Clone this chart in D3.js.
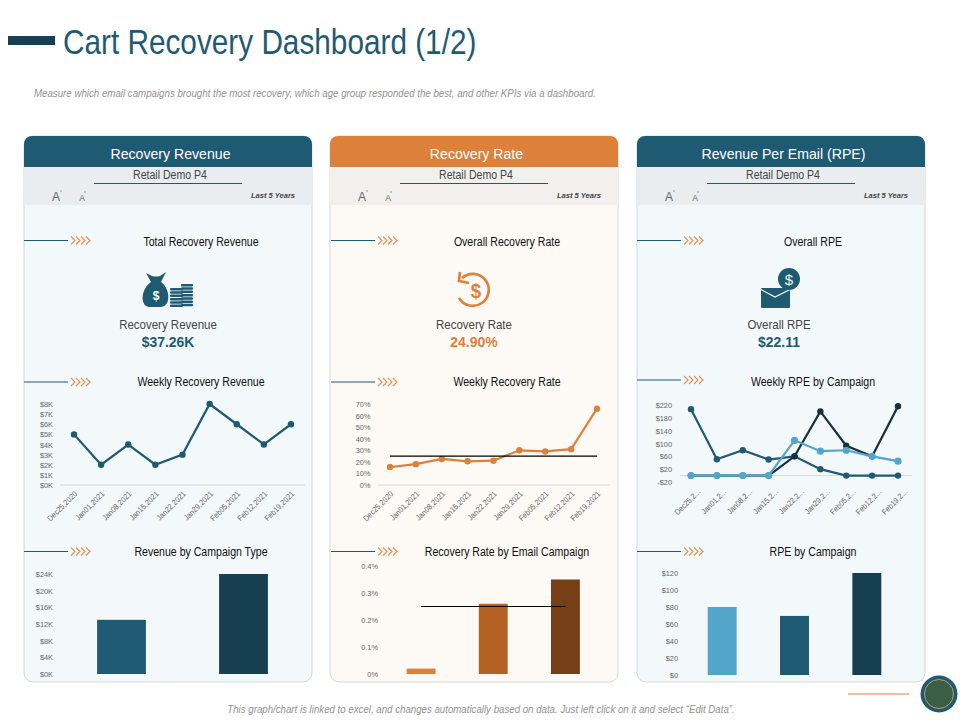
<!DOCTYPE html>
<html lang="en">
  <head>
    <meta charset="utf-8">
    <title>Cart Recovery Dashboard (1/2)</title>
    <script src="https://d3js.org/d3.v7.min.js"></script>
    <style>
      html, body { margin: 0; padding: 0; background: #fff; }
      svg { display: block; }
      text { font-family: "Liberation Sans", Arial, sans-serif; }
      .tick text { font-size: 8px; fill: #666; }
    </style>
  </head>
  <body>
    <script>
      // data
      var weeks = ["Dec25,2020", "Jan01,2021", "Jan08,2021", "Jan15,2021", "Jan22,2021", "Jan29,2021", "Feb05,2021", "Feb12,2021", "Feb19,2021"];

      var weeklyRevenue = [5, 2, 4, 2, 3, 8, 6, 4, 6];
      var revenueTicks = [0, 1, 2, 3, 4, 5, 6, 7, 8];

      var weeklyRate = [15.5, 18, 22.5, 20.5, 21, 30, 29, 31, 66];
      var weeklyRateAvg = [25, 25, 25, 25, 25, 25, 25, 25, 25];
      var rateTicks = [0, 10, 20, 30, 40, 50, 60, 70];

      var rpeMid = [207, 51, 79, 50, 60, 20, 0, 0, 0];
      var rpeDark = [0, 0, 0, 0, 60, 200, 93, 60, 216];
      var rpeLight = [0, 0, 0, 0, 110, 76, 79, 60, 45];
      var rpeTicks = [-20, 20, 60, 100, 140, 180, 220];

      var campaignTypes = ["Type A", "Type B"];
      var campaignRevenue = [13, 24];
      var campaignRevenueTicks = [0, 4, 8, 12, 16, 20, 24];

      var emailCampaigns = ["Campaign A", "Campaign B", "Campaign C"];
      var emailRate = [0.02, 0.26, 0.35];
      var emailRateAvg = [0.25, 0.25, 0.25];
      var emailRateTicks = [0, 0.1, 0.2, 0.3, 0.4];

      var rpeCampaigns = ["Campaign A", "Campaign B", "Campaign C"];
      var rpeByCampaign = [80, 69.5, 120];
      var rpeByCampaignTicks = [0, 20, 40, 60, 80, 100, 120];

      var blue = "#1f5a73", dark = "#173f52", navy = "#16303f", light = "#53a5c9", orange = "#dd813a";

      var svg = d3.select("body").append("svg")
                  .attr("width", 960)
                  .attr("height", 720);

      // no narrow face is installed, so text gets squeezed to the original's width
      function squeeze(sel, k) {
        sel.each(function() {
          d3.select(this)
            .attr("textLength", this.getComputedTextLength() * k)
            .attr("lengthAdjust", "spacingAndGlyphs");
        });
        return sel;
      }

      function label(x, y, str, size, color, k, anchor) {
        var t = svg.append("text")
                   .attr("x", x)
                   .attr("y", y)
                   .attr("text-anchor", anchor || "middle")
                   .attr("dominant-baseline", "central")
                   .style("font-size", size + "px")
                   .style("fill", color)
                   .text(str);
        return squeeze(t, k || 0.88);
      }

      function boldLabel(x, y, str, size, color) {
        var t = svg.append("text")
                   .attr("x", x)
                   .attr("y", y)
                   .attr("text-anchor", "middle")
                   .attr("dominant-baseline", "central")
                   .style("font-size", size + "px")
                   .style("font-weight", "bold")
                   .style("fill", color)
                   .text(str);
        return squeeze(t, 0.93);
      }

      // page heading
      svg.append("rect").attr("x", 8).attr("y", 36).attr("width", 47).attr("height", 9).attr("fill", dark);
      label(63, 41, "Cart Recovery Dashboard (1/2)", 35, blue, 0.85, "start");
      label(34, 92.5, "Measure which email campaigns brought the most recovery, which age group responded the best, and other KPIs via a dashboard.", 10.5, "#929292", 0.924, "start")
        .style("font-style", "italic");
      label(481, 708.5, "This graph/chart is linked to excel, and changes automatically based on data. Just left click on it and select \u201CEdit Data\u201D.", 11, "#929292", 0.88)
        .style("font-style", "italic");

      // bottom right badge
      svg.append("line").attr("x1", 848).attr("x2", 909).attr("y1", 694).attr("y2", 694).attr("stroke", orange);
      svg.append("circle").attr("cx", 939).attr("cy", 694).attr("r", 18.5).attr("fill", blue);
      svg.append("circle").attr("cx", 939).attr("cy", 694).attr("r", 14.5).attr("fill", "#3b5f45").attr("stroke", "#c79a64");

      function panel(x, head, bodyFill, subFill, title) {
        var w = 288, top = 136, bottom = 682;
        svg.append("rect").attr("x", x).attr("y", top).attr("width", w).attr("height", bottom - top)
           .attr("rx", 9).attr("fill", bodyFill).attr("stroke", "#d3d7d9");
        svg.append("path")
           .attr("d", "M" + x + " 167V144a8 8 0 0 1 8-8H" + (x + w - 8) + "a8 8 0 0 1 8 8V167Z")
           .attr("fill", head);
        svg.append("rect").attr("x", x).attr("y", 167).attr("width", w).attr("height", 38).attr("fill", subFill);
        label(x + w / 2 + 2.5, 153, title, 15.5, "#fff", 0.91);
        label(x + w / 2 + 2, 175, "Retail Demo P4", 12, "#444", 0.88);
        svg.append("line").attr("x1", x + 70).attr("x2", x + 218).attr("y1", 183.5).attr("y2", 183.5).attr("stroke", blue);
        label(x + 32, 197, "A", 12, "#666", 1);
        label(x + 58, 198, "A", 8.5, "#666", 1);
        svg.append("line").attr("x1", x + 36).attr("x2", x + 38).attr("y1", 191).attr("y2", 191).attr("stroke", "#999");
        svg.append("line").attr("x1", x + 60).attr("x2", x + 62).attr("y1", 192).attr("y2", 192).attr("stroke", "#999");
        label(x + 249, 195, "Last 5 Years", 8, "#444", 1)
          .style("font-weight", "bold").style("font-style", "italic");
      }

      function section(x, y, cx, ty, str) {
        svg.append("line").attr("x1", x).attr("x2", x + 44).attr("y1", y).attr("y2", y).attr("stroke", blue);
        d3.range(4).forEach(function(i) {
          var cxn = x + 47 + i * 5;
          svg.append("path")
             .attr("d", "M" + cxn + " " + (y - 4) + "l4 4l-4 4")
             .attr("fill", "none").attr("stroke", orange).attr("stroke-width", 1.2).attr("opacity", 0.85);
        });
        label(cx, ty, str, 12, "#111", 0.88);
      }

      function yAxis(scale, right, ticks, fmt) {
        var g = svg.append("g")
                   .attr("transform", "translate(" + right + ",0)")
                   .call(d3.axisLeft(scale).tickValues(ticks).tickSize(0).tickPadding(0).tickFormat(fmt));
        g.select(".domain").remove();
        squeeze(g.selectAll("text"), 0.92);
      }

      function lineChart(o) {
        var x = d3.scalePoint().domain(weeks).range(o.xRange);
        var y = d3.scaleLinear().domain(o.yDomain).range(o.yRange);
        yAxis(y, o.tickRight, o.ticks, o.fmt);
        var zero = o.yDomain[0] < 0 ? y(0) : o.yRange[0];
        svg.append("line").attr("x1", o.axis[0]).attr("x2", o.axis[1]).attr("y1", zero).attr("y2", zero).attr("stroke", "#d5d8da");

        var ax = svg.append("g")
                    .attr("transform", "translate(" + (o.labelShift || 0) + "," + o.labelTop + ")")
                    .call(d3.axisBottom(x).tickSize(0).tickPadding(0).tickFormat(o.xFmt || function(d) { return d; }));
        ax.select(".domain").remove();
        ax.selectAll("text")
          .attr("text-anchor", "end")
          .attr("dy", "0.6em")
          .attr("dx", "0")
          .attr("transform", "rotate(-45)");
        squeeze(ax.selectAll("text"), 0.9);

        var line = d3.line().x(function(d, i) { return x(weeks[i]); }).y(function(d) { return y(d); });
        o.series.forEach(function(s) {
          svg.append("path").datum(s.values).attr("d", line)
             .attr("fill", "none").attr("stroke", s.color).attr("stroke-width", s.width || 2.2);
          if (s.noDots) return;
          svg.selectAll(null).data(s.values).enter().append("circle")
             .attr("cx", function(d, i) { return x(weeks[i]); })
             .attr("cy", function(d) { return y(d); })
             .attr("r", s.r || 3.2)
             .attr("fill", s.color);
        });
      }

      function barChart(o) {
        var x = d3.scaleBand().domain(o.cats).range(o.xRange).paddingInner(o.padding).paddingOuter(o.padding / 2);
        var y = d3.scaleLinear().domain(o.yDomain).range(o.yRange);
        yAxis(y, o.tickRight, o.ticks, o.fmt);
        svg.selectAll(null).data(o.values).enter().append("rect")
           .attr("x", function(d, i) { return x(o.cats[i]); })
           .attr("y", function(d) { return y(d); })
           .attr("width", x.bandwidth())
           .attr("height", function(d) { return y(0) - y(d); })
           .attr("fill", function(d, i) { return o.colors[i]; });
        if (o.avg) {
          var line = d3.line().x(function(d, i) { return x(o.cats[i]) + x.bandwidth() / 2; }).y(function(d) { return y(d); });
          svg.append("path").datum(o.avg).attr("d", line).attr("fill", "none").attr("stroke", "#000").attr("stroke-width", 1.2);
        }
      }

      // panels
      panel(24, blue, "#f3f8fb", "#e9edf0", "Recovery Revenue");
      panel(330, orange, "#fdf9f5", "#f2f0ee", "Recovery Rate");
      panel(637, blue, "#f3f8fb", "#e9edf0", "Revenue Per Email (RPE)");

      section(24, 240.5, 201, 242, "Total Recovery Revenue");
      section(24, 382, 201, 382, "Weekly Recovery Revenue");
      section(24, 551.5, 201, 552, "Revenue by Campaign Type");
      section(331, 240.5, 507, 242, "Overall Recovery Rate");
      section(331, 382, 507, 382, "Weekly Recovery Rate");
      section(331, 551.5, 507, 552, "Recovery Rate by Email Campaign");
      section(637, 380, 813, 382, "Weekly RPE by Campaign");
      section(637, 240.5, 813, 242, "Overall RPE");
      section(637, 551.5, 813, 552, "RPE by Campaign");

      // KPIs
      label(168, 324.5, "Recovery Revenue", 13.5, "#444", 0.85);
      boldLabel(168, 341, "$37.26K", 15, blue);
      label(474, 324.5, "Recovery Rate", 13.5, "#444", 0.85);
      boldLabel(474, 341, "24.90%", 15, orange);
      label(779, 324.5, "Overall RPE", 13.5, "#444", 0.85);
      boldLabel(779, 341, "$22.11", 15, blue);

      // money bag icon
      svg.append("path")
         .attr("d", "M146 273L152 276Q156 277 160 276L166 272L161 282C170 288 172 307 160 307L150 307C140 307 140 290 151 282Z")
         .attr("fill", blue);
      boldLabel(156, 295, "$", 13, "#fff");
      [[170, 288, 13, 6], [181, 284, 12, 7]].forEach(function(s) {
        d3.range(s[3]).forEach(function(i) {
          svg.append("rect").attr("x", s[0]).attr("y", s[1] + i * 3.3).attr("width", s[2]).attr("height", 2.5).attr("rx", 1).attr("fill", blue);
        });
      });

      // recovery arrow icon
      svg.append("path")
         .attr("d", "M462 278A16 16 0 1 1 459 298")
         .attr("fill", "none").attr("stroke", orange).attr("stroke-width", 2.6);
      svg.append("path")
         .attr("d", "M460 272L459 281L469 283")
         .attr("fill", "none").attr("stroke", orange).attr("stroke-width", 2.6);
      boldLabel(476, 291, "$", 20, orange);

      // envelope icon
      svg.append("rect").attr("x", 761).attr("y", 288).attr("width", 29).attr("height", 20).attr("rx", 1).attr("fill", blue);
      svg.append("path").attr("d", "M760 289L775 297L791 289").attr("fill", "none").attr("stroke", "#f3f8fb").attr("stroke-width", 1.2);
      svg.append("circle").attr("cx", 789).attr("cy", 279).attr("r", 11).attr("fill", blue);
      label(789, 279, "$", 15, "#f3f8fb", 1);

      // charts
      lineChart({
        xRange: [74, 291], yDomain: [0, 8], yRange: [485, 404], axis: [60, 305], labelTop: 491,
        tickRight: 53, ticks: revenueTicks, fmt: function(d) { return "$" + d + "K"; },
        series: [{ values: weeklyRevenue, color: blue }]
      });
      lineChart({
        xRange: [390, 597], yDomain: [0, 70], yRange: [485, 404], axis: [378, 610], labelTop: 491,
        tickRight: 370.5, ticks: rateTicks, fmt: function(d) { return d + "%"; },
        series: [
          { values: weeklyRate, color: orange },
          { values: weeklyRateAvg, color: "#000", width: 1.2, noDots: true }
        ]
      });
      lineChart({
        xRange: [691, 898], yDomain: [-20, 220], yRange: [482, 405], axis: [680, 912], labelTop: 489, labelShift: 6,
        tickRight: 672, ticks: rpeTicks,
        fmt: function(d) { return d < 0 ? "-$" + (-d) : "$" + d; },
        xFmt: function(d) { return d.slice(0, 7) + "..."; },
        series: [
          { values: rpeMid, color: blue },
          { values: rpeDark, color: navy },
          { values: rpeLight, color: light, r: 3.6 }
        ]
      });

      barChart({
        cats: campaignTypes, values: campaignRevenue, colors: [blue, dark],
        xRange: [60.5, 304.5], padding: 0.6, yDomain: [0, 24], yRange: [674, 574],
        tickRight: 53, ticks: campaignRevenueTicks, fmt: function(d) { return "$" + d + "K"; }
      });
      barChart({
        cats: emailCampaigns, values: emailRate, colors: [orange, "#b46224", "#763f16"], avg: emailRateAvg,
        xRange: [385, 601.5], padding: 0.6, yDomain: [0, 0.4], yRange: [674, 566],
        tickRight: 378, ticks: emailRateTicks, fmt: function(d) { return d === 0 ? "0%" : d.toFixed(1) + "%"; }
      });
      barChart({
        cats: rpeCampaigns, values: rpeByCampaign, colors: [light, blue, dark],
        xRange: [686, 903], padding: 0.6, yDomain: [0, 120], yRange: [675, 573],
        tickRight: 678, ticks: rpeByCampaignTicks, fmt: function(d) { return "$" + d; }
      });
    </script>
  </body>
</html>
